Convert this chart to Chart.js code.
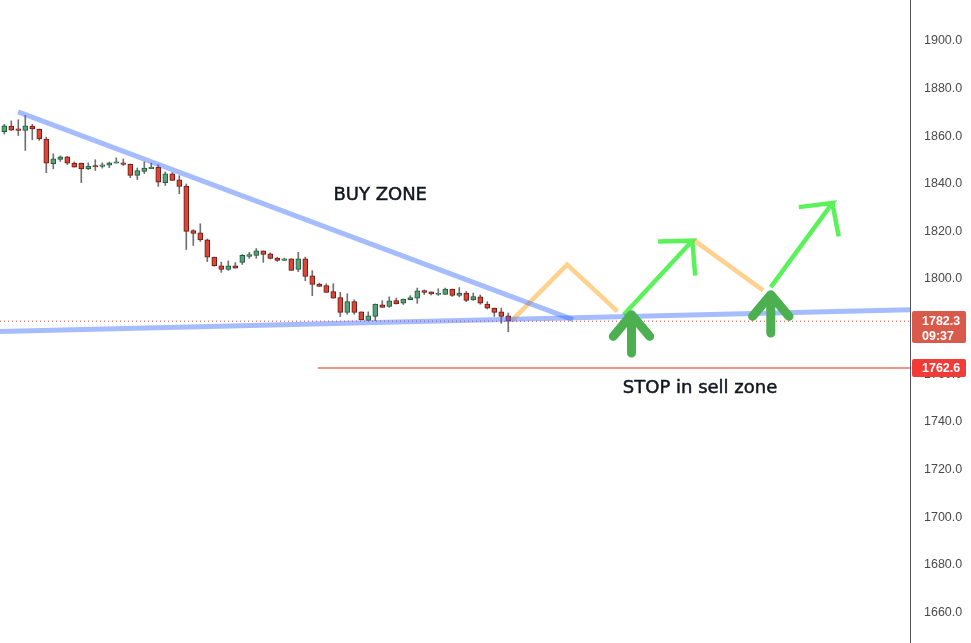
<!DOCTYPE html>
<html>
<head>
<meta charset="utf-8">
<script src="https://cdn.jsdelivr.net/npm/chart.js@4/dist/chart.umd.min.js"></script>
<style>
html,body{margin:0;padding:0;background:#fff;}
#c{display:block;}
</style>
</head>
<body>
<canvas id="c" width="971" height="643"></canvas>
<script>
// ---- Candle data (OHLC), one per bar ----
const opens  = [1861.9,1864.2,1863.1,1862.4,1864.2,1863.0,1858.8,1848.5,1850.2,1851.3,1848.7,1848.7,1846.2,1847.6,1847.3,1847.8,1848.7,1848.8,1848.3,1843.5,1845.2,1846.4,1847.0,1840.5,1844.2,1841.7,1839.0,1820.3,1819.4,1816.5,1809.2,1805.5,1804.0,1805.5,1807.0,1809.5,1809.9,1811.8,1810.6,1808.8,1807.8,1808.5,1804.0,1808.5,1801.3,1797.9,1797.2,1794.7,1792.2,1786.0,1790.5,1786.2,1782.6,1784.3,1789.1,1788.5,1790.9,1789.8,1791.3,1791.9,1795.1,1794.6,1793.5,1793.5,1795.8,1793.1,1794.1,1791.2,1792.5,1789.5,1787.8,1786.2,1784.5];
const highs  = [1865.0,1866.4,1866.9,1868.7,1865.0,1863.0,1859.6,1852.6,1851.7,1851.5,1849.2,1848.7,1848.8,1850.1,1848.8,1849.1,1850.9,1850.4,1848.3,1846.6,1849.2,1848.7,1848.0,1845.0,1844.7,1843.4,1839.9,1820.7,1823.2,1816.8,1809.2,1807.1,1807.6,1806.9,1810.3,1811.2,1812.8,1811.8,1811.0,1809.2,1808.8,1808.5,1811.2,1809.2,1803.5,1798.3,1798.0,1798.0,1794.4,1793.8,1791.3,1786.2,1786.2,1789.5,1790.9,1792.5,1792.0,1791.6,1793.0,1796.2,1795.4,1794.6,1795.9,1796.2,1795.8,1796.4,1794.8,1794.1,1793.3,1790.5,1787.8,1787.8,1785.7];
const lows   = [1860.9,1862.4,1860.3,1854.0,1858.5,1858.2,1844.7,1846.3,1849.4,1848.1,1847.0,1840.5,1845.9,1845.6,1846.6,1846.8,1848.7,1847.7,1842.6,1841.8,1844.3,1846.4,1838.9,1839.3,1841.4,1835.8,1812.4,1814.1,1815.8,1807.3,1805.4,1802.8,1803.6,1804.5,1806.1,1808.7,1808.7,1807.0,1808.4,1807.4,1807.8,1803.6,1803.1,1799.3,1793.0,1796.9,1794.4,1791.9,1784.2,1785.2,1785.2,1782.8,1782.6,1782.5,1788.1,1788.1,1789.5,1789.3,1791.3,1789.8,1793.5,1793.3,1793.1,1793.5,1792.7,1792.5,1790.5,1791.0,1789.4,1787.4,1784.3,1781.4,1777.8];
const closes = [1864.3,1862.5,1862.4,1864.3,1863.0,1858.8,1848.7,1850.5,1851.3,1848.7,1847.0,1846.2,1847.4,1847.1,1848.0,1848.8,1849.2,1848.1,1843.5,1845.5,1846.6,1847.0,1840.7,1844.2,1841.4,1838.9,1820.0,1819.1,1816.4,1809.2,1805.5,1804.0,1805.5,1804.5,1809.9,1810.3,1811.8,1810.3,1808.7,1807.8,1808.5,1803.6,1808.5,1801.1,1797.7,1796.9,1794.4,1791.9,1786.0,1790.5,1786.0,1782.8,1784.5,1789.5,1788.1,1790.8,1789.5,1791.6,1792.2,1795.0,1794.4,1793.7,1794.0,1795.8,1793.1,1794.1,1791.0,1792.6,1789.8,1787.8,1786.0,1784.3,1782.3];

// ---- Price axis ticks ----
const tickValues = [1660,1680,1700,1720,1740,1760,1780,1800,1820,1840,1860,1880,1900];
const lastPrice = 1782.3;
const lastTime = "09:37";
const stopPrice = 1762.6;

// ---- Drawn annotations (x in bar index, y in price) ----
const upperTrend  = [[1.96,1870.2],[81.24,1782.9]];
const lowerTrend  = [[-0.61,1777.9],[129.39,1787.1]];
const stopLine    = [[44.8,stopPrice],[129.39,stopPrice]];
const lastLine    = [[-0.61,lastPrice],[129.39,lastPrice]];
const orangeZig1  = [[72.5,1782.5],[80.4,1806.0],[87.6,1786.4]];
const orangeZig2  = [[98.6,1816.1],[108.4,1795.2]];
const greenArrow1 = [[88.5,1785.0],[98.3,1816.1],[93.4,1815.8],[98.3,1816.1],[98.7,1801.4]];
const greenArrow2 = [[109.5,1796.6],[118.3,1831.9],[113.5,1830.2],[118.3,1831.9],[119.2,1817.9]];
const upArrow1    = [[89.6,1768.9],[89.6,1785.0],[87.0,1775.9],[89.6,1785.0],[92.2,1775.9]];
const upArrow2    = [[109.5,1777.3],[109.5,1793.4],[106.9,1784.3],[109.5,1793.4],[112.1,1784.3]];
const labels = [
  {text:"BUY ZONE", x:53.7, y:1835.0},
  {text:"STOP in sell zone", x:99.4, y:1754.0}
];

const xMin = -0.614, xMax = 129.39, yMin = 1647.1, yMax = 1917.2;

const up = closes.map((c,i)=>c>=opens[i]);
const wickData = opens.map((_,i)=>({x:i, y:[lows[i], highs[i]]}));
const bodyData = opens.map((o,i)=>({x:i, y:[Math.min(o,closes[i]), Math.max(o,closes[i])]}));
const pts = a => a.map(p=>({x:p[0], y:p[1]}));

function lineDs(data, color, width, extra){
  return Object.assign({type:'line', data:pts(data), borderColor:color, borderWidth:width,
    pointRadius:0, fill:false, tension:0, order:1, borderCapStyle:'butt', borderJoinStyle:'miter'}, extra||{});
}

const overlay = {
  id:'overlay',
  afterDatasetsDraw(chart){
    const ctx = chart.ctx, xs = chart.scales.x, ys = chart.scales.y;
    ctx.save();
    ctx.fillStyle = '#131722';
    ctx.strokeStyle = '#131722';
    ctx.lineWidth = 0.5;
    ctx.font = '18px "DejaVu Sans"';
    ctx.textAlign = 'center';
    ctx.textBaseline = 'middle';
    labels.forEach(l=>{
      const x = xs.getPixelForValue(l.x), y = ys.getPixelForValue(l.y);
      ctx.fillText(l.text, x, y);
      ctx.strokeText(l.text, x, y);
    });
    ctx.restore();
  },
  afterDraw(chart){
    const ctx = chart.ctx, ys = chart.scales.y;
    const left = chart.chartArea.right + 2, w = 54;
    ctx.save();
    // last price box
    let py = ys.getPixelForValue(lastPrice);
    ctx.fillStyle = '#d9594a';
    ctx.beginPath(); ctx.roundRect(left, Math.round(py)-10, w, 32, 2); ctx.fill();
    ctx.fillStyle = '#ffffff';
    ctx.font = 'bold 12.5px "Liberation Sans"';
    ctx.textAlign = 'left'; ctx.textBaseline = 'middle';
    ctx.fillText(lastPrice.toFixed(1), left + 10, py);
    ctx.fillText(lastTime, left + 10, py + 15);
    // stop box
    py = ys.getPixelForValue(stopPrice);
    ctx.fillStyle = '#f23a36';
    ctx.beginPath(); ctx.roundRect(left, Math.round(py)-9, w, 18, 2); ctx.fill();
    ctx.fillStyle = '#ffffff';
    ctx.fillText(stopPrice.toFixed(1), left + 10, py + 1);
    ctx.restore();
  }
};

new Chart(document.getElementById('c'), {
  type:'bar',
  data:{
    datasets:[
      {type:'bar', data:wickData, backgroundColor:'#707070', borderWidth:0, barThickness:1, grouped:false, order:4},
      {type:'bar', data:bodyData,
        backgroundColor: up.map(u=>u?'#57a27c':'#d9473a'),
        borderColor: up.map(u=>u?'#1f5c38':'#6e1812'),
        borderWidth:1, borderSkipped:false, barThickness:5, grouped:false, order:3},
      lineDs(lastLine, '#d9412f', 1, {borderDash:[1,3], order:2}),
      lineDs(upperTrend, 'rgba(41,98,255,0.42)', 5),
      lineDs(lowerTrend, 'rgba(41,98,255,0.42)', 5),
      lineDs(stopLine, '#f4928b', 2),
      lineDs(orangeZig1, 'rgba(255,152,0,0.45)', 4.5),
      lineDs(orangeZig2, 'rgba(255,152,0,0.45)', 4.5),
      lineDs(greenArrow1, 'rgba(0,235,0,0.65)', 4.5),
      lineDs(greenArrow2, 'rgba(0,235,0,0.65)', 4.5),
      lineDs(upArrow1, '#4caf50', 9, {borderCapStyle:'round', borderJoinStyle:'round', order:0}),
      lineDs(upArrow2, '#4caf50', 9, {borderCapStyle:'round', borderJoinStyle:'round', order:0})
    ]
  },
  options:{
    responsive:false,
    animation:false,
    devicePixelRatio:1,
    layout:{padding:0},
    plugins:{legend:{display:false}, tooltip:{enabled:false}},
    scales:{
      x:{type:'linear', min:xMin, max:xMax, display:false, offset:false, grid:{display:false}},
      y:{type:'linear', position:'right', min:yMin, max:yMax,
        grid:{display:false, drawTicks:false},
        border:{display:true, color:'#50535e', width:1},
        ticks:{color:'#4a4a4a', font:{family:'Liberation Sans', size:12.5}, padding:14,
          callback:v=>Number(v).toFixed(1)},
        afterBuildTicks:s=>{ s.ticks = tickValues.map(v=>({value:v})); },
        afterFit:s=>{ s.width = 61; s.paddingTop = 0; s.paddingBottom = 0; }
      }
    }
  },
  plugins:[overlay]
});
</script>
</body>
</html>
